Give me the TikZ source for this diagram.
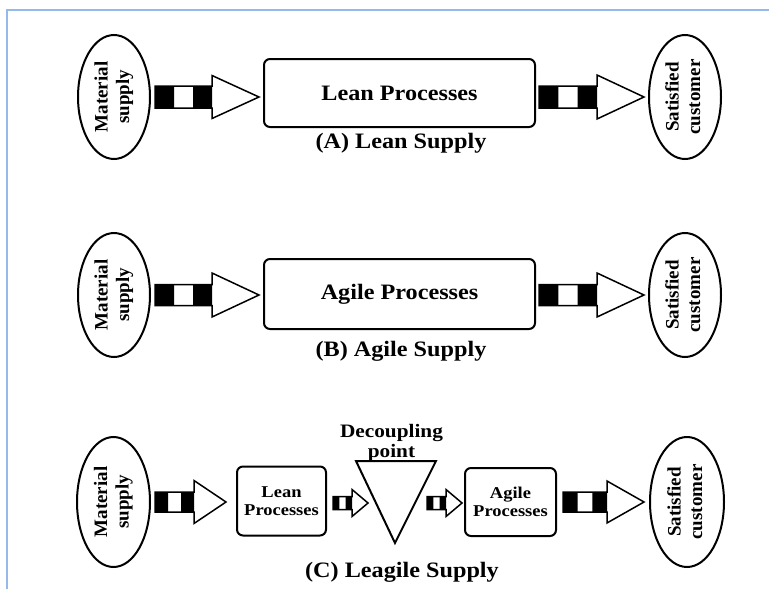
\documentclass[tikz,border=0pt]{standalone}
\usepackage{fontspec}
\usepackage{graphicx}
\setmainfont{Liberation Serif}
\newfontfamily\widefont{Liberation Serif}[FakeStretch=1.1]
\newfontfamily\midfont{Liberation Serif}[FakeStretch=1.12]
\newfontfamily\ellfont{Liberation Serif}
\usetikzlibrary{calc,shapes.geometric}
\definecolor{framebl}{RGB}{150,185,235}

\tikzset{
  ell/.style={ellipse, draw, line width=2pt, inner sep=0pt,
              minimum width=72pt, minimum height=124pt},
  proc/.style={draw, line width=2pt, rounded corners=6pt, inner sep=0pt},
  bigtxt/.style={font=\widefont\bfseries\fontsize{22}{26}\selectfont},
  smalltxt/.style={font=\midfont\bfseries\fontsize{16.5}{18}\selectfont, align=center},
  dptxt/.style={font=\midfont\bfseries\fontsize{19}{19.5}\selectfont, align=center, inner sep=0pt},
  captxt/.style={font=\widefont\bfseries\fontsize{22}{26}\selectfont, inner sep=0pt},
  arrowline/.style={draw, fill=white, line width=1.5pt, line join=miter},
}

% vertical two-line label inside an ellipse
\newcommand\elltext[2]{\rotatebox{90}{\ellfont\bfseries\fontsize{19}{21.5}\selectfont
  \begin{tabular}{@{}c@{}}#1\\#2\end{tabular}}}

% striped block arrow: #1 from, #2 to, #3 shaft half-height,
% #4 head half-height, #5 head length (all in pt)
\newcommand\fatarrow[5]{%
  \draw[arrowline] let \p1=(#1), \p2=(#2), \n1={\x2-#5pt} in
    (\x1,\y1-#3pt) -- (\n1,\y1-#3pt) -- (\n1,\y1-#4pt) -- (\x2,\y1)
    -- (\n1,\y1+#4pt) -- (\n1,\y1+#3pt) -- (\x1,\y1+#3pt) -- cycle;
  \fill let \p1=(#1), \p2=(#2), \n1={(\x2-\x1-#5pt)/3} in
    (\x1,\y1-#3pt) rectangle (\x1+\n1,\y1+#3pt)
    (\x1+2*\n1,\y1-#3pt) rectangle (\x1+3*\n1,\y1+#3pt);
}

\begin{document}
\begin{tikzpicture}[x=1pt, y=-1pt]
\useasboundingbox (0,0) rectangle (769,589);

% page frame
\draw[framebl, line width=2pt] (7,589) -- (7,9.5) -- (769,9.5);

% ---------- (A) Lean supply ----------
\node[ell] (ms1) at (114,97) {\elltext{Material}{supply}};
\node[ell] (sc1) at (685,97) {\elltext{Satisfied}{customer}};
\node[proc, minimum width=271pt, minimum height=68pt, bigtxt] (lean1) at (399.5,93) {Lean Processes};
\node[captxt] (capA) at (401,143) {(A) Lean Supply};
\fatarrow{$(ms1.east)+(4,0)$}{$(lean1.west)+(-4,0)$}{11}{21.5}{47}
\fatarrow{$(lean1.east |- sc1.west)+(3,0)$}{$(sc1.west)+(-4,0)$}{11}{22}{47}

% ---------- (B) Agile supply ----------
\node[ell] (ms2) at (114,295) {\elltext{Material}{supply}};
\node[ell] (sc2) at (685,295) {\elltext{Satisfied}{customer}};
\node[proc, minimum width=271pt, minimum height=70pt, bigtxt] (agile2) at (399.5,294) {Agile Processes};
\node[captxt] (capB) at (401,351) {(B) Agile Supply};
\fatarrow{$(ms2.east)+(4,0)$}{$(agile2.west)+(-4,0)$}{10.5}{22}{47}
\fatarrow{$(agile2.east |- sc2.west)+(3,0)$}{$(sc2.west)+(-4,0)$}{10.5}{22}{47}

% ---------- (C) Leagile supply ----------
\node[ell, minimum width=73pt, minimum height=130pt] (ms3) at (113.5,502) {\elltext{Material}{supply}};
\node[ell, minimum width=74pt, minimum height=130pt] (sc3) at (687,502) {\elltext{Satisfied}{customer}};
\node[proc, minimum width=89pt, minimum height=69pt, smalltxt] (lean3) at (281.5,501) {Lean\\Processes};
\node[proc, minimum width=91pt, minimum height=68pt, smalltxt] (agile3) at (510.5,502) {Agile\\Processes};

% decoupling point
\coordinate (dpl) at (356,461);
\coordinate (dpr) at (436,461);
\coordinate (dpb) at (395,543);
\draw[line width=2pt, line join=miter] (dpl) -- (dpr) -- (dpb) -- cycle;
\node[dptxt] (dp) at (391.5,443) {Decoupling\\point};
\coordinate (dpin) at (368,503);
\coordinate (dpout) at (427,503);

\node[captxt] (capC) at (402,572) {(C) Leagile Supply};

\fatarrow{$(ms3.east)+(4,0)$}{$(lean3.west)+(-10,0)$}{10}{21.5}{32}
\fatarrow{$(lean3.east)+(6,2)$}{dpin}{6.5}{13.5}{16}
\fatarrow{dpout}{$(agile3.west)+(-2,0)$}{6.5}{13.5}{16}
\fatarrow{$(agile3.east)+(6,0)$}{$(sc3.west)+(-5,0)$}{10}{21}{37}
\end{tikzpicture}
\end{document}
